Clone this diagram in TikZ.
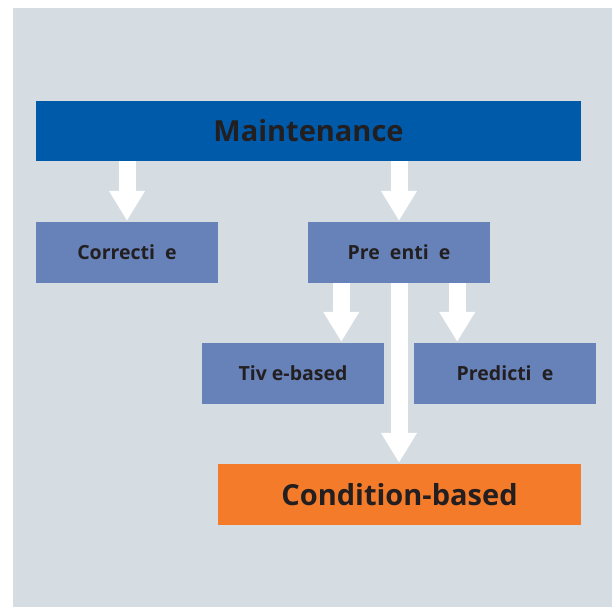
\documentclass[tikz,border=0pt]{standalone}
\usepackage{fontspec}
\setmainfont{Open Sans}
\usetikzlibrary{arrows.meta}
\definecolor{bgc}{RGB}{213,221,227}
\definecolor{topblue}{RGB}{0,90,170}
\definecolor{boxblue}{RGB}{102,130,185}
\definecolor{orangec}{RGB}{244,123,42}
\definecolor{txt}{RGB}{35,31,32}
\tikzset{
  box/.style={fill=boxblue, minimum width=182pt, minimum height=61pt, inner sep=0pt,
    text=txt, font=\fontsize{19.5}{19.5}\selectfont\bfseries},
  bigbox/.style={minimum height=60pt, inner sep=0pt, text=txt,
    font=\fontsize{29}{29}\selectfont\bfseries},
  fat/.style={white, line width=17pt, -{Triangle[width=34pt,length=30pt]}, shorten >=0pt}
}
\begin{document}
\begin{tikzpicture}[x=1pt,y=-1pt]
\useasboundingbox (0,0) rectangle (612,607);
\fill[bgc] (13,8) rectangle (612,607);
\node[bigbox, fill=topblue, minimum width=545pt] (main) at (308.5,131) {Maintenance};
\node[box] (cor) at (127,252.5) {Correcti\kern5pt{} e};
\node[box] (pre) at (399,252.5) {Pre\kern5pt{} enti\kern5pt{} e};
\node[box] (tim) at (293,373.5) {Tiv e-based};
\node[box] (prd) at (505,373.5) {Predicti\kern5pt{} e};
\node[bigbox, fill=orangec, minimum width=363pt, minimum height=61pt] (cond) at (399.5,494.5) {Condition-based};
\draw[fat] (main.south -| cor.north) -- ([yshift=1pt]cor.north);
\draw[fat] (main.south -| pre.north) -- ([yshift=1pt]pre.north);
\coordinate (p1) at ([xshift=33.5pt]pre.south west);
\coordinate (p2) at ([xshift=-33pt]pre.south east);
\draw[fat] (p1) -- ([yshift=1pt]p1 |- tim.north);
\draw[fat] (p2) -- ([yshift=1pt]p2 |- prd.north);
\draw[fat] (pre.south) -- ([yshift=1pt]cond.north -| pre.south);
\end{tikzpicture}
\end{document}
